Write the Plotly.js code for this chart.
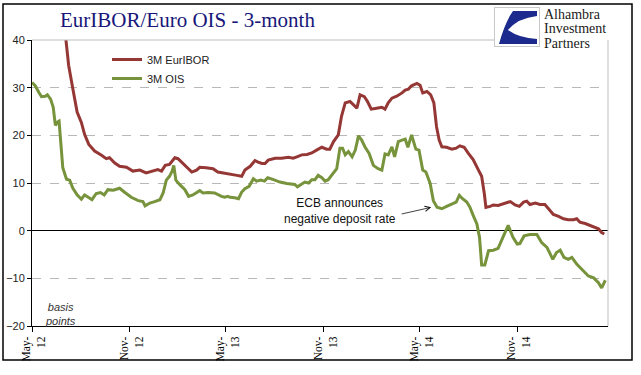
<!DOCTYPE html>
<html>
<head>
<meta charset="utf-8">
<script src="https://cdn.plot.ly/plotly-3.0.1.min.js"></script>
<style>html,body{margin:0;padding:0;background:#fff;}#chart{width:641px;height:375px;}</style>
</head>
<body>
<div id="chart"></div>
<script>
// ---- Data (basis points) ----
const eurDates = ['2012-05-01','2012-05-20','2012-06-10','2012-06-25','2012-07-03','2012-07-09','2012-07-17','2012-07-25','2012-08-02','2012-08-08','2012-08-16','2012-08-27','2012-09-09','2012-09-18','2012-09-24','2012-10-04','2012-10-13','2012-10-26','2012-11-07','2012-11-20','2012-12-02','2012-12-15','2012-12-24','2012-12-31','2013-01-07','2013-01-15','2013-01-25','2013-01-31','2013-02-09','2013-02-19','2013-02-26','2013-03-07','2013-03-13','2013-03-25','2013-04-07','2013-04-16','2013-04-29','2013-05-12','2013-05-22','2013-05-31','2013-06-06','2013-06-16','2013-06-25','2013-07-01','2013-07-08','2013-07-14','2013-07-20','2013-08-02','2013-08-14','2013-08-27','2013-09-05','2013-09-12','2013-09-21','2013-10-01','2013-10-10','2013-10-19','2013-10-29','2013-11-07','2013-11-13','2013-11-20','2013-11-29','2013-12-05','2013-12-12','2013-12-21','2013-12-27','2014-01-03','2014-01-09','2014-01-17','2014-01-23','2014-01-30','2014-02-09','2014-02-19','2014-02-25','2014-03-03','2014-03-10','2014-03-19','2014-03-29','2014-04-04','2014-04-10','2014-04-16','2014-04-26','2014-05-02','2014-05-07','2014-05-15','2014-05-22','2014-05-28','2014-06-02','2014-06-07','2014-06-12','2014-06-21','2014-07-01','2014-07-09','2014-07-16','2014-07-24','2014-08-01','2014-08-10','2014-08-20','2014-08-26','2014-08-31','2014-09-03','2014-09-11','2014-09-17','2014-09-26','2014-10-09','2014-10-19','2014-10-28','2014-11-05','2014-11-13','2014-11-19','2014-11-25','2014-12-05','2014-12-14','2014-12-23','2014-12-30','2015-01-08','2015-01-18','2015-01-27','2015-02-05','2015-02-15','2015-02-21','2015-02-27','2015-03-09','2015-03-18','2015-03-28','2015-04-03','2015-04-09','2015-04-14'];
const eurVals = [58,52,47,43.5,41,34.7,29.7,24.9,22.7,20.2,18.1,16.7,15.8,15.1,15.3,14.2,13.5,13.3,12.5,12.7,12.1,12.5,12.8,12.5,13.7,13.9,15.3,15.1,14.2,13.2,12.3,12.7,13.3,13.2,13.0,12.3,12.1,11.8,11.6,11.4,12.7,13.5,14.7,14.4,14.1,14.1,14.8,15.2,15.2,15.4,15.2,15.5,15.9,16.0,16.3,16.9,17.5,17.1,17.1,18.7,20.1,24.0,26.8,27.1,26.4,25.7,28.5,28.1,27.1,25.5,25.7,25.9,25.5,26.8,27.8,28.2,28.9,29.5,29.7,30.4,30.9,30.5,28.9,29.2,28.5,26.8,21.8,19.0,17.6,17.5,17.1,17.3,17.8,17.5,16.2,14.9,12.7,11.4,7.8,4.9,5.1,5.4,5.3,5.8,6.1,5.4,5.1,6.0,6.2,5.5,5.8,5.5,5.5,4.6,3.4,3.0,2.5,2.3,2.3,2.5,1.8,1.5,1.1,0.7,0.4,-0.4,-0.7];

const oisDates = ['2012-05-01','2012-05-07','2012-05-14','2012-05-19','2012-05-26','2012-05-30','2012-06-05','2012-06-10','2012-06-14','2012-06-18','2012-06-21','2012-06-24','2012-06-28','2012-07-05','2012-07-11','2012-07-17','2012-07-25','2012-08-02','2012-08-08','2012-08-15','2012-08-22','2012-08-30','2012-09-07','2012-09-14','2012-09-21','2012-10-01','2012-10-13','2012-10-23','2012-11-04','2012-11-17','2012-11-26','2012-11-30','2012-12-09','2012-12-18','2012-12-28','2013-01-03','2013-01-09','2013-01-15','2013-01-20','2013-01-23','2013-01-27','2013-02-03','2013-02-13','2013-02-20','2013-02-28','2013-03-13','2013-03-19','2013-03-29','2013-04-10','2013-04-23','2013-04-29','2013-05-05','2013-05-09','2013-05-18','2013-05-25','2013-05-31','2013-06-06','2013-06-14','2013-06-22','2013-06-28','2013-07-06','2013-07-13','2013-07-19','2013-07-30','2013-08-11','2013-08-24','2013-09-02','2013-09-08','2013-09-13','2013-09-21','2013-09-27','2013-10-04','2013-10-10','2013-10-16','2013-10-22','2013-10-29','2013-11-04','2013-11-10','2013-11-17','2013-11-26','2013-12-02','2013-12-07','2013-12-12','2013-12-18','2013-12-25','2013-12-31','2014-01-06','2014-01-12','2014-01-18','2014-01-26','2014-02-03','2014-02-12','2014-02-19','2014-02-25','2014-03-03','2014-03-10','2014-03-15','2014-03-22','2014-03-29','2014-04-04','2014-04-09','2014-04-16','2014-04-24','2014-04-30','2014-05-07','2014-05-13','2014-05-21','2014-05-27','2014-06-03','2014-06-12','2014-06-21','2014-07-01','2014-07-09','2014-07-15','2014-07-21','2014-07-29','2014-08-04','2014-08-10','2014-08-17','2014-08-22','2014-08-26','2014-09-01','2014-09-08','2014-09-17','2014-09-26','2014-10-05','2014-10-15','2014-10-24','2014-11-01','2014-11-06','2014-11-14','2014-11-25','2014-12-08','2014-12-17','2014-12-27','2015-01-07','2015-01-14','2015-01-21','2015-01-28','2015-02-05','2015-02-12','2015-02-21','2015-03-06','2015-03-15','2015-03-25','2015-04-03','2015-04-09','2015-04-16'];
const oisVals = [31.1,30.4,29.0,28.1,28.2,28.5,27.6,25.9,22.1,22.8,23.0,17.8,13.2,10.8,10.6,8.9,7.5,6.6,7.5,7.0,6.5,7.8,8.0,7.5,8.6,8.5,8.9,8.0,7.0,6.3,6.1,5.2,5.8,6.1,6.5,7.9,10.6,11.4,12.5,13.7,10.6,9.7,8.6,7.2,7.5,8.4,7.9,8.0,7.9,7.2,7.0,7.2,7.0,6.9,6.7,8.1,8.8,9.3,10.9,10.4,10.6,10.4,11.1,10.7,10.2,9.9,9.7,9.7,9.2,9.7,10.2,10.0,10.7,10.7,11.6,11.1,10.4,10.7,11.8,13.0,17.3,17.3,15.9,16.6,15.5,16.9,19.9,19.0,17.6,16.2,13.7,13.0,12.7,16.1,15.9,17.6,15.5,18.7,19.0,19.2,17.5,20.1,17.1,16.9,12.7,12.3,9.9,6.3,4.9,4.6,5.1,5.6,6.0,7.4,6.7,6.0,4.9,3.2,1.4,-1.4,-7.2,-7.2,-4.2,-4.1,-3.7,-1.4,1.1,-1.4,-2.8,-2.7,-1.1,-0.8,-0.8,-2.5,-3.5,-6.0,-4.6,-4.1,-5.6,-6.0,-5.6,-7.0,-8.5,-9.5,-9.9,-10.9,-12.0,-10.4];

const tickDates = ['2012-05-01','2012-11-01','2013-05-01','2013-11-01','2014-05-01','2014-11-01'];
const tickLabels = ['May-<br>12','Nov-<br>12','May-<br>13','Nov-<br>13','May-<br>14','Nov-<br>14'];
const seriesNames = ['3M EurIBOR','3M OIS'];

// ---- geometry helpers (paper coords from pixel positions) ----
const W = 641, H = 375, L = 32, R = 33, T = 40, B = 49;
const pw = W - L - R, ph = H - T - B;
const px = x => (x - L) / pw;
const py = y => (H - B - y) / ph;

const logoSvg = '<svg xmlns="http://www.w3.org/2000/svg" width="46" height="40" viewBox="0 0 46 40">' +
  '<rect x="0.5" y="0.5" width="45" height="39" fill="white" stroke="#c9c9c9" stroke-width="1"/>' +
  '<path d="M19,4 L43,4 L43,9 Q24,11 14,23 Q25,31 43,32 L43,37 L5,37 Q11,15 19,4 Z" fill="#1b2a8c"/>' +
  '</svg>';
const logoUri = 'data:image/svg+xml;utf8,' + encodeURIComponent(logoSvg);

const traces = [
  {x: eurDates, y: eurVals, name: seriesNames[0], type: 'scatter', mode: 'lines',
   line: {color: '#953735', width: 3}},
  {x: oisDates, y: oisVals, name: seriesNames[1], type: 'scatter', mode: 'lines',
   line: {color: '#77933C', width: 3}}
];

const serif = 'Liberation Serif, Times New Roman, serif';
const sans = 'Liberation Sans, Arial, sans-serif';

const layout = {
  width: W, height: H,
  margin: {l: L, r: R, t: T, b: B, pad: 0},
  paper_bgcolor: '#ffffff', plot_bgcolor: '#ffffff',
  title: {text: 'EurIBOR/Euro OIS - 3-month', font: {family: serif, size: 21, color: '#17177a'},
          x: 60 / W, xanchor: 'left', xref: 'container', y: 1 - 20 / H, yanchor: 'middle', yref: 'container'},
  showlegend: true,
  legend: {x: px(107), y: py(45), xanchor: 'left', yanchor: 'top', bgcolor: 'rgba(0,0,0,0)',
           font: {family: sans, size: 11, color: '#222'}, tracegroupgap: 0, itemwidth: 30},
  xaxis: {type: 'date', range: ['2012-05-01', '2015-04-21'], tickmode: 'array', tickvals: tickDates, ticktext: tickLabels,
          tickangle: -90, tickfont: {family: serif, size: 11.5, color: '#000'}, ticklabelshift: 2, showgrid: false, zeroline: false,
          showline: true, linecolor: '#000', linewidth: 1, ticks: 'outside', ticklen: 5, tickcolor: '#000'},
  yaxis: {range: [-20, 40], dtick: 10, tick0: 0, tickfont: {family: sans, size: 11, color: '#222'},
          showgrid: true, gridcolor: '#b8b8b8', griddash: 'dash', gridwidth: 1,
          zeroline: true, zerolinecolor: '#000', zerolinewidth: 1,
          showline: true, linecolor: '#000', linewidth: 1, ticks: 'outside', ticklen: 4, tickcolor: '#000'},
  shapes: [
    // plot area border (grey top / right)
    {type: 'line', xref: 'paper', yref: 'paper', x0: 0, x1: px(494), y0: 1, y1: 1, line: {color: '#bdbdbd', width: 1}},
    {type: 'line', xref: 'paper', yref: 'paper', x0: 1, x1: 1, y0: 0, y1: 1, line: {color: '#bdbdbd', width: 1}},
    // outer frame
    {type: 'rect', xref: 'paper', yref: 'paper', x0: px(3), x1: px(632), y0: py(360), y1: py(4), line: {color: '#000', width: 1.5}, layer: 'above'}
  ],
  images: [
    {source: logoUri, xref: 'paper', yref: 'paper', x: px(494), y: py(7), sizex: 46 / pw, sizey: 40 / ph,
     xanchor: 'left', yanchor: 'top', sizing: 'stretch', layer: 'above'}
  ],
  annotations: [
    {xref: 'paper', yref: 'paper', x: px(542), y: py(15), text: 'Alhambra', showarrow: false, xanchor: 'left', yanchor: 'middle',
     font: {family: serif, size: 14, color: '#1a1a1a'}},
    {xref: 'paper', yref: 'paper', x: px(542), y: py(29), text: 'Investment', showarrow: false, xanchor: 'left', yanchor: 'middle',
     font: {family: serif, size: 14, color: '#1a1a1a'}},
    {xref: 'paper', yref: 'paper', x: px(542), y: py(43), text: 'Partners', showarrow: false, xanchor: 'left', yanchor: 'middle',
     font: {family: serif, size: 14, color: '#1a1a1a'}},
    {xref: 'paper', yref: 'paper', x: px(340), y: py(211), text: 'ECB announces<br>negative deposit rate', showarrow: false,
     xanchor: 'center', yanchor: 'middle', align: 'center', font: {family: sans, size: 12, color: '#111'}},
    {xref: 'x', yref: 'y', x: '2014-05-23', y: 4.9, text: '', showarrow: true, arrowhead: 5, arrowsize: 1.3, arrowwidth: 0.8,
     arrowcolor: '#111', ax: -31, ay: 7, standoff: 0},
    {xref: 'paper', yref: 'paper', x: px(60), y: py(314), text: '<i>basis<br>points</i>', showarrow: false,
     xanchor: 'center', yanchor: 'middle', align: 'center', font: {family: sans, size: 11, color: '#333'}}
  ]
};

Plotly.newPlot('chart', traces, layout, {staticPlot: true, displayModeBar: false});
</script>
</body>
</html>
